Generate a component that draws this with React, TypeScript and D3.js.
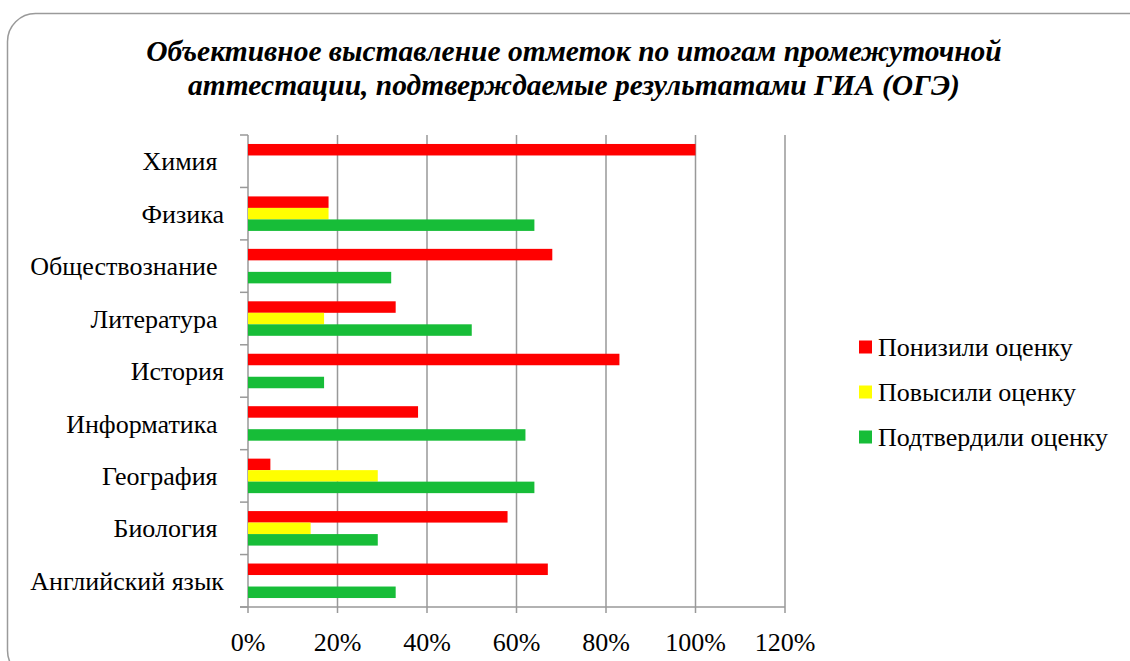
import * as d3 from "d3";

const categories = [
  "Химия ",
  "Физика",
  "Обществознание ",
  "Литература ",
  "История",
  "Информатика ",
  "География ",
  "Биология ",
  "Английский язык",
];
const seriesNames = ["Понизили оценку", "Повысили оценку", "Подтвердили оценку"];
const lowered = [1.0, 0.18, 0.68, 0.33, 0.83, 0.38, 0.05, 0.58, 0.67];
const raised = [0, 0.18, 0, 0.17, 0, 0, 0.29, 0.14, 0];
const confirmed = [0, 0.64, 0.32, 0.5, 0.17, 0.62, 0.64, 0.29, 0.33];
const xTicks = [0, 0.2, 0.4, 0.6, 0.8, 1.0, 1.2];
const colors = ["#ff0000", "#ffff00", "#17bd38"];
const titleLines = [
  "Объективное выставление отметок по итогам промежуточной",
  "аттестации, подтверждаемые результатами ГИА (ОГЭ)",
];

const W = 1130;
const H = 661;
const plot = { left: 248, right: 785, top: 135, bottom: 607 };
const font = "'Times New Roman', 'Liberation Serif', Tinos, 'DejaVu Serif', serif";

export default function App() {
  const values = [lowered, raised, confirmed];
  const x = d3.scaleLinear([0, 1.2], [plot.left, plot.right]);
  const y = d3.scaleBand(categories, [plot.top, plot.bottom]);
  const ys = d3
    .scaleBand(seriesNames, [0, y.bandwidth()])
    .paddingInner(0)
    .paddingOuter(0.78);
  const boundaries = categories.map((c) => y(c)!).concat([plot.bottom]);

  return (
    <svg
      width={W}
      height={H}
      style={{ position: "absolute", left: 0, top: 0, fontFamily: font }}
    >
      <rect x={0} y={0} width={W} height={H} fill="#fff" />
      <rect
        x={7.5}
        y={13.5}
        width={1160}
        height={665}
        rx={28}
        fill="#fff"
        stroke="#9a9a9a"
        strokeWidth={1.5}
      />
      {titleLines.map((t, i) => (
        <text
          key={i}
          x={574}
          y={61 + i * 34}
          textAnchor="middle"
          fontSize={29.5}
          fontWeight="bold"
          fontStyle="italic"
        >
          {t}
        </text>
      ))}

      {/* vertical gridlines */}
      {xTicks.map((t) => (
        <line
          key={t}
          x1={x(t)}
          x2={x(t)}
          y1={plot.top}
          y2={plot.bottom + 6}
          stroke="#999"
          strokeWidth={1.5}
        />
      ))}
      {/* bottom axis */}
      <line
        x1={plot.left - 8}
        x2={plot.right}
        y1={plot.bottom}
        y2={plot.bottom}
        stroke="#999"
        strokeWidth={1.5}
      />
      {/* category ticks */}
      {boundaries.map((b, i) => (
        <line
          key={i}
          x1={plot.left - 8}
          x2={plot.left}
          y1={b}
          y2={b}
          stroke="#999"
          strokeWidth={1.5}
        />
      ))}

      {/* bars */}
      {seriesNames.map((s, si) => (
        <g key={s} fill={colors[si]}>
          {categories.map((c, ci) =>
            values[si][ci] > 0 ? (
              <rect
                key={c}
                x={x(0)}
                y={y(c)! + ys(s)!}
                width={x(values[si][ci]) - x(0)}
                height={ys.bandwidth()}
              />
            ) : null
          )}
        </g>
      ))}

      {/* category labels */}
      {categories.map((c) => (
        <text
          key={c}
          x={224}
          y={y(c)! + y.bandwidth() / 2}
          dy="0.35em"
          textAnchor="end"
          fontSize={26}
          style={{ whiteSpace: "pre" }}
        >
          {c}
        </text>
      ))}

      {/* x tick labels */}
      {xTicks.map((t) => (
        <text key={t} x={x(t)} y={651} textAnchor="middle" fontSize={26}>
          {d3.format(".0%")(t)}
        </text>
      ))}

      {/* legend */}
      {seriesNames.map((s, i) => (
        <g key={s} transform={`translate(859, ${347 + i * 45})`}>
          <rect x={0} y={-6.5} width={13} height={13} fill={colors[i]} />
          <text x={19} y={0} dy="0.35em" fontSize={26}>
            {s}
          </text>
        </g>
      ))}
    </svg>
  );
}
